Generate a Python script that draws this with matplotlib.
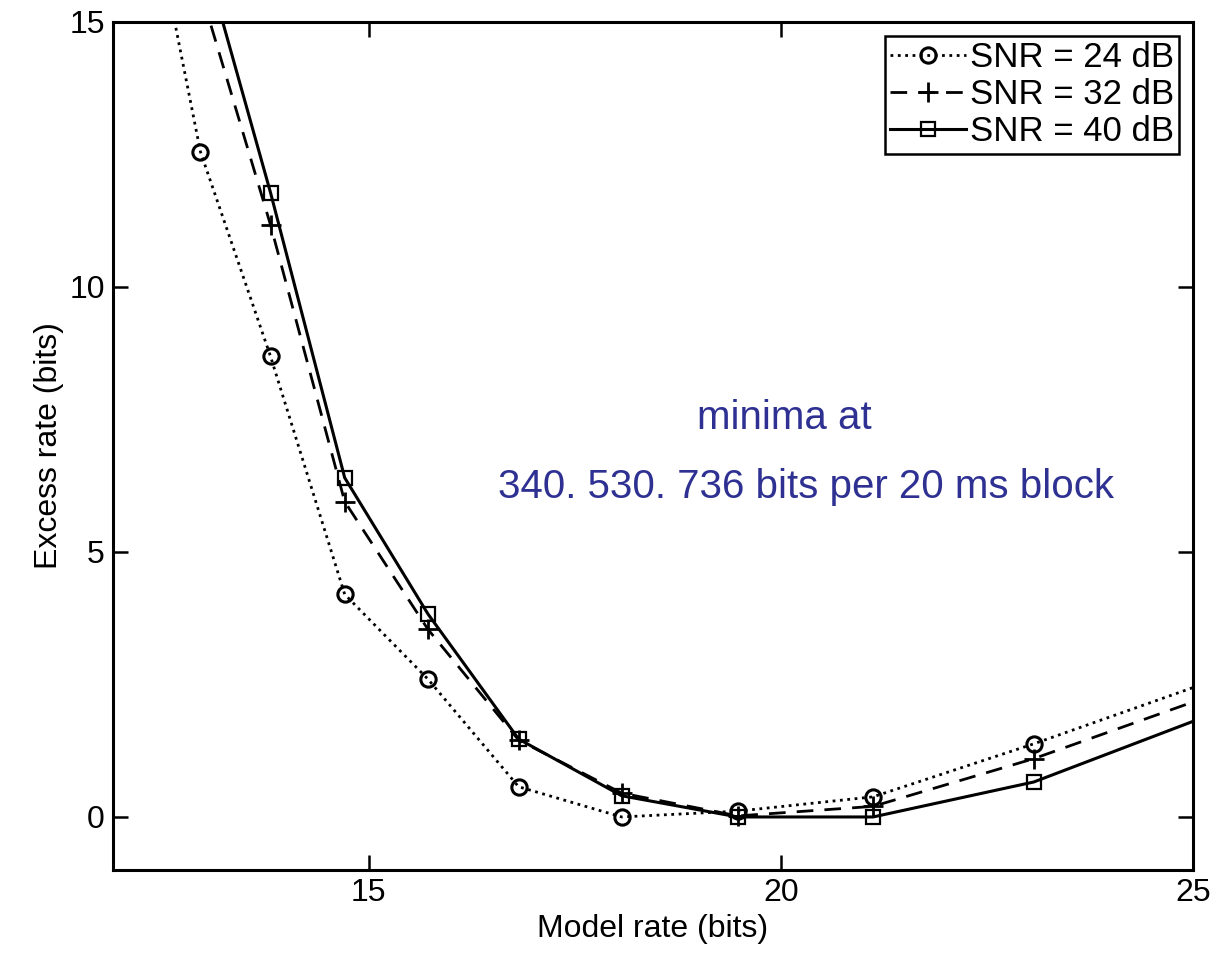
import numpy as np
import matplotlib.pyplot as plt

plt.rcParams['font.family'] = ['Liberation Sans', 'DejaVu Sans']

# model rate (bits) at each evaluated point
rate = [12.15, 12.96, 13.81, 14.71, 15.72, 16.82, 18.07, 19.48, 21.12, 23.07, 25.4]

# excess rate (bits) per SNR
snr24 = [18.9, 12.55, 8.69, 4.2, 2.6, 0.57, 0.0, 0.11, 0.38, 1.38, 2.66]
snr32 = [20.0, 15.6, 11.17, 5.95, 3.54, 1.45, 0.45, 0.02, 0.2, 1.1, 2.39]
snr40 = [21.0, 16.5, 11.78, 6.4, 3.83, 1.47, 0.4, 0.0, 0.0, 0.66, 2.04]

labels = ['SNR = 24 dB', 'SNR = 32 dB', 'SNR = 40 dB']

fig = plt.figure(figsize=(12.16, 9.56), dpi=100)
ax = fig.add_axes([0.093, 0.09, 0.888, 0.887])

ax.plot(rate, snr24, color='black', linestyle=':', linewidth=2, marker='o',
        markersize=11, markerfacecolor='none', markeredgewidth=2.2, label=labels[0])
ax.plot(rate, snr32, color='black', linestyle='--', linewidth=2, marker='+',
        markersize=14, markeredgewidth=2, label=labels[1],
        dashes=(6, 4))
ax.plot(rate, snr40, color='black', linestyle='-', linewidth=2.2, marker='s',
        markersize=10, markerfacecolor='none', markeredgewidth=1.6, label=labels[2])

ax.set_xlim(11.9, 25)
ax.set_ylim(-1, 15)
ax.set_xticks([15, 20, 25])
ax.set_yticks([0, 5, 10, 15])
ax.tick_params(direction='in', length=11, width=1.8, top=True, right=True,
               labelsize=23, pad=6)
for s in ax.spines.values():
    s.set_linewidth(2.2)

ax.set_xlabel('Model rate (bits)', fontsize=23, labelpad=4)
ax.set_ylabel('Excess rate (bits)', fontsize=23, labelpad=4)

ax.text(0.622, 0.533, 'minima at', transform=ax.transAxes, ha='center',
        va='center', fontsize=29, color='#2e3192')
ax.text(0.642, 0.452, '340. 530. 736 bits per 20 ms block', transform=ax.transAxes,
        ha='center', va='center', fontsize=29, color='#2e3192')

leg = ax.legend(loc='upper right', fontsize=25, fancybox=False, framealpha=1,
                edgecolor='black', handlelength=2.2, handletextpad=0.1,
                borderpad=0.15, labelspacing=0.12, borderaxespad=0.4)
leg.get_frame().set_linewidth(1.8)

fig.savefig('out.png', dpi=100)
